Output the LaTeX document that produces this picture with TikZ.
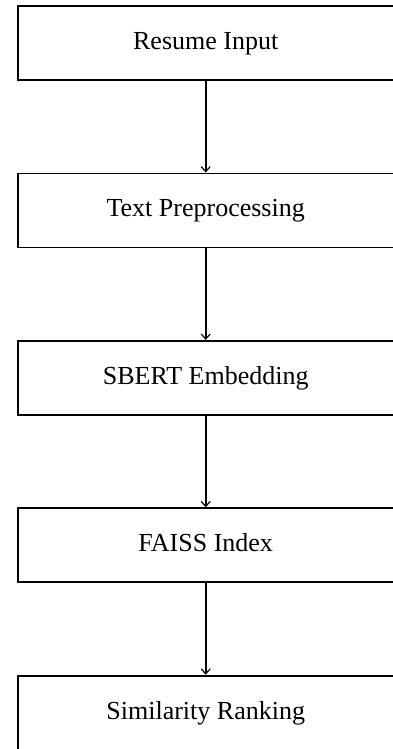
\documentclass[tikz,border=0pt]{standalone}
\usepackage{fontspec}
\setmainfont{Liberation Serif}
\usetikzlibrary{positioning,arrows.meta}

\begin{document}
\begin{tikzpicture}[>={Straight Barb[length=5pt,width=9pt,line width=1.2pt]},
    node distance=91.6pt,
    box/.style={draw,line width=1.8pt,minimum width=376pt,minimum height=74pt,
        text height=18pt,text depth=5pt,font=\fontsize{26pt}{30pt}\selectfont}]
                %Frame
                \useasboundingbox (0,0) rectangle (392pt,-749pt);
                %Steps
                \node[box] (input) at (205.7pt,-43pt) {Resume Input};
                \node[box,below=of input] (prep) {Text Preprocessing};
                \node[box,below=of prep] (sbert) {SBERT Embedding};
                \node[box,below=of sbert] (faiss) {FAISS Index};
                \node[box,below=of faiss] (rank) {Similarity Ranking};
                %Arrows
                \draw[line width=2.2pt,->] (input)--(prep);
                \draw[line width=2.2pt,->] (prep)--(sbert);
                \draw[line width=2.2pt,->] (sbert)--(faiss);
                \draw[line width=2.2pt,->] (faiss)--(rank);
            \end{tikzpicture}
\end{document}
